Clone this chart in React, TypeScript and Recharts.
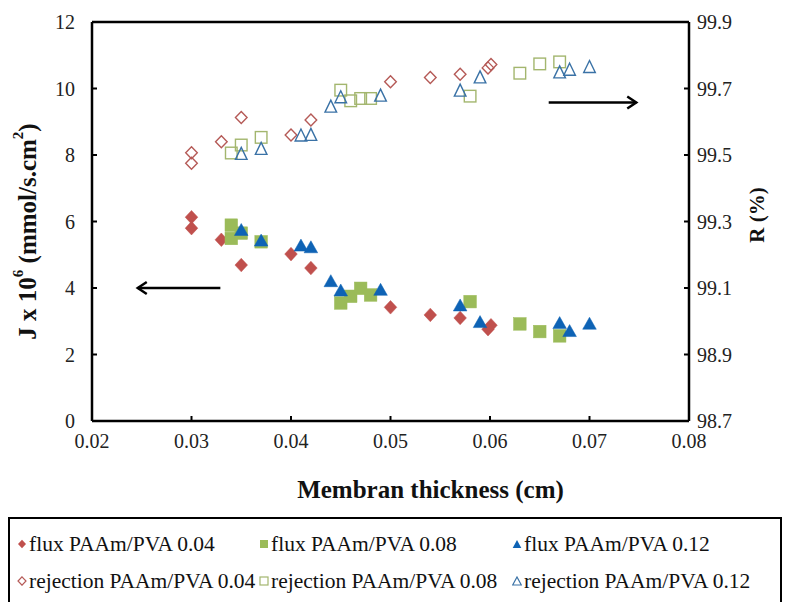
import React from 'react';
import {
    ReferenceLine,
    Scatter,
    ScatterChart,
    XAxis,
    YAxis,
} from 'recharts';

// Values (flux on the left axis, rejection on the right).
const thicknessTicks = [0.02, 0.03, 0.04, 0.05, 0.06, 0.07, 0.08];
const fluxTicks = [0, 2, 4, 6, 8, 10, 12];
const rejectionTicks = [98.7, 98.9, 99.1, 99.3, 99.5, 99.7, 99.9];

const thickness004 = [0.03, 0.03, 0.033, 0.035, 0.04, 0.042, 0.05, 0.054, 0.057, 0.0601, 0.0598];
const flux004 = [6.13, 5.8, 5.45, 4.69, 5.02, 4.6, 3.42, 3.19, 3.1, 2.88, 2.76];
const rejection004 = [99.507, 99.475, 99.54, 99.613, 99.56, 99.605, 99.72, 99.733, 99.743, 99.772, 99.762];

const thicknessFlux008 = [0.034, 0.034, 0.035, 0.037, 0.045, 0.046, 0.047, 0.048, 0.058, 0.063, 0.065, 0.067];
const flux008 = [5.89, 5.49, 5.65, 5.39, 3.55, 3.75, 3.99, 3.79, 3.59, 2.92, 2.69, 2.56];
const thicknessRej008 = [0.034, 0.035, 0.037, 0.045, 0.046, 0.047, 0.048, 0.058, 0.063, 0.065, 0.067];
const rejection008 = [99.506, 99.53, 99.553, 99.695, 99.663, 99.67, 99.67, 99.677, 99.746, 99.774, 99.78];

const thickness012 = [0.035, 0.037, 0.041, 0.042, 0.044, 0.045, 0.049, 0.057, 0.059, 0.067, 0.068, 0.07];
const flux012 = [5.76, 5.44, 5.29, 5.24, 4.22, 3.94, 3.96, 3.49, 2.99, 2.96, 2.72, 2.94];
const rejection012 = [99.505, 99.52, 99.56, 99.562, 99.647, 99.675, 99.68, 99.695, 99.735, 99.75, 99.758, 99.766];

// arrows pointing at the axis each group belongs to (left-axis units)
const fluxArrow = [{ x: 0.0329, y: 4 }, { x: 0.0246, y: 4 }];
const rejectionArrow = [{ x: 0.0659, y: 9.58 }, { x: 0.0747, y: 9.58 }];

const RED = '#C0504D';
const GREEN = '#9BBB59';
const BLUE = '#0E63B5';
const RED_OPEN = '#B55A57';
const GREEN_OPEN = '#A3B66E';
const BLUE_OPEN = '#3A72A6';
const FONT = '"Liberation Serif", "Times New Roman", Times, serif';

const toPoints = (xs: number[], ys: number[]) => xs.map((x, i) => ({ x, y: ys[i] }));

const diamond = (color: string, filled: boolean) => (p: any) => {
    const { cx, cy } = p;
    const w = filled ? 6.3 : 5.8;
    const h = filled ? 6.8 : 6;
    return (
        <path
            d={`M${cx},${cy - h} L${cx + w},${cy} L${cx},${cy + h} L${cx - w},${cy} Z`}
            fill={filled ? color : 'none'}
            stroke={color}
            strokeWidth={filled ? 0.5 : 1.4}
        />
    );
};

const square = (color: string, filled: boolean) => (p: any) => {
    const { cx, cy } = p;
    const s = filled ? 6.3 : 5.8;
    return (
        <rect
            x={cx - s}
            y={cy - s}
            width={s * 2}
            height={s * 2}
            fill={filled ? color : 'none'}
            stroke={color}
            strokeWidth={filled ? 0.5 : 1.4}
        />
    );
};

const triangle = (color: string, filled: boolean) => (p: any) => {
    const { cx, cy } = p;
    const w = filled ? 6.8 : 5.8;
    const h = 6;
    return (
        <path
            d={`M${cx},${cy - h} L${cx + w},${cy + h} L${cx - w},${cy + h} Z`}
            fill={filled ? color : 'none'}
            stroke={color}
            strokeWidth={filled ? 0.5 : 1.4}
        />
    );
};

const Arrow = (p: any) => {
    const { x1, y1, x2, y2 } = p;
    const dir = x2 > x1 ? 1 : -1;
    return (
        <g>
            <line x1={x1} y1={y1} x2={x2} y2={y2} stroke="#000" strokeWidth={2.5} />
            <path
                d={`M${x2 - dir * 9},${y2 - 6} L${x2},${y2} L${x2 - dir * 9},${y2 + 6}`}
                fill="none"
                stroke="#000"
                strokeWidth={2.5}
            />
        </g>
    );
};

const LeftTitle = (p: any) => {
    const vb = p.viewBox || { x: 12, y: 22, width: 80, height: 399 };
    const cx = vb.x + 15;
    const cy = vb.y + vb.height / 2 + 10;
    return (
        <text
            x={cx}
            y={cy}
            transform={`rotate(-90 ${cx} ${cy})`}
            textAnchor="middle"
            dominantBaseline="central"
            fontFamily={FONT}
            style={{ fontFamily: FONT }}
            fontWeight="bold"
            fontSize={25}
            fill="#111"
        >
            J x 10
            <tspan dy={-9} fontSize={15}>6</tspan>
            <tspan dy={9}> (mmol/s.cm</tspan>
            <tspan dy={-9} fontSize={15}>2</tspan>
            <tspan dy={9}>)</tspan>
        </text>
    );
};

const RightTitle = (p: any) => {
    const vb = p.viewBox || { x: 689, y: 22, width: 90, height: 399 };
    const cx = vb.x + 68;
    const cy = vb.y + 193;
    return (
        <text
            x={cx}
            y={cy}
            transform={`rotate(-90 ${cx} ${cy})`}
            textAnchor="middle"
            dominantBaseline="central"
            fontFamily={FONT}
            style={{ fontFamily: FONT }}
            fontWeight="bold"
            fontSize={21}
            fill="#111"
        >
            R (%)
        </text>
    );
};

const BottomTitle = (p: any) => {
    const vb = p.viewBox || { x: 92, y: 421, width: 597, height: 40 };
    return (
        <text
            x={vb.x + vb.width / 2 + 40}
            y={489}
            textAnchor="middle"
            dominantBaseline="central"
            fontFamily={FONT}
            style={{ fontFamily: FONT }}
            fontWeight="bold"
            fontSize={25}
            fill="#111"
        >
            Membran thickness (cm)
        </text>
    );
};

const tickStyle = { fontSize: 20, fontFamily: FONT, fill: '#222', style: { fontFamily: FONT } };

const legendItems = [
    { label: 'flux PAAm/PVA 0.04', kind: 'diamond', color: RED, filled: true },
    { label: 'flux PAAm/PVA 0.08', kind: 'square', color: GREEN, filled: true },
    { label: 'flux PAAm/PVA 0.12', kind: 'triangle', color: BLUE, filled: true },
    { label: 'rejection PAAm/PVA 0.04', kind: 'diamond', color: RED_OPEN, filled: false },
    { label: 'rejection PAAm/PVA 0.08', kind: 'square', color: GREEN_OPEN, filled: false },
    { label: 'rejection PAAm/PVA 0.12', kind: 'triangle', color: BLUE_OPEN, filled: false },
];

function LegendMarker({ kind, color, filled }: { kind: string; color: string; filled: boolean }) {
    const fill = filled ? color : 'none';
    const sw = filled ? 0 : 1.2;
    return (
        <svg width={10} height={10} style={{ marginRight: 2, flex: 'none' }}>
            {kind === 'diamond' && <path d="M5,0.8 L9,5 L5,9.2 L1,5 Z" fill={fill} stroke={color} strokeWidth={sw} />}
            {kind === 'square' && <rect x={1} y={1} width={8} height={8} fill={fill} stroke={color} strokeWidth={sw} />}
            {kind === 'triangle' && <path d="M5,1 L9.3,9 L0.7,9 Z" fill={fill} stroke={color} strokeWidth={sw} />}
        </svg>
    );
}

export default function App() {
    const columns = [17, 259, 512];
    return (
        <div
            style={{
                position: 'absolute',
                left: 0,
                top: 0,
                width: 788,
                height: 602,
                background: '#fff',
                overflow: 'hidden',
                fontFamily: FONT,
            }}
        >
            <ScatterChart width={788} height={602} margin={{ top: 22, right: 9, bottom: 141, left: 12 }}>
                <XAxis
                    type="number"
                    dataKey="x"
                    domain={[0.02, 0.08]}
                    ticks={thicknessTicks}
                    tickFormatter={(v: number) => v.toFixed(2)}
                    height={40}
                    axisLine={{ stroke: '#000', strokeWidth: 2.5 }}
                    tickLine={{ stroke: '#000', strokeWidth: 2 }}
                    tickSize={-5}
                    tickMargin={18}
                    tick={tickStyle}
                    label={<BottomTitle />}
                    allowDataOverflow
                />
                <YAxis
                    yAxisId="left"
                    type="number"
                    dataKey="y"
                    domain={[0, 12]}
                    ticks={fluxTicks}
                    width={80}
                    axisLine={{ stroke: '#000', strokeWidth: 2.5 }}
                    tickLine={{ stroke: '#000', strokeWidth: 2 }}
                    tickSize={-5}
                    tickMargin={22}
                    tick={tickStyle}
                    label={<LeftTitle />}
                    allowDataOverflow
                />
                <YAxis
                    yAxisId="right"
                    orientation="right"
                    type="number"
                    dataKey="y"
                    domain={[98.7, 99.9]}
                    ticks={rejectionTicks}
                    tickFormatter={(v: number) => v.toFixed(1)}
                    width={90}
                    axisLine={{ stroke: '#000', strokeWidth: 2.5 }}
                    tickLine={{ stroke: '#000', strokeWidth: 2 }}
                    tickSize={-5}
                    tickMargin={13}
                    tick={{ ...tickStyle, textAnchor: 'start' }}
                    label={<RightTitle />}
                    allowDataOverflow
                />
                <ReferenceLine yAxisId="left" y={12} stroke="#000" strokeWidth={2.5} />
                <ReferenceLine yAxisId="left" segment={fluxArrow} shape={<Arrow />} />
                <ReferenceLine yAxisId="left" segment={rejectionArrow} shape={<Arrow />} />

                <Scatter yAxisId="left" name="flux PAAm/PVA 0.04" data={toPoints(thickness004, flux004)} shape={diamond(RED, true)} isAnimationActive={false} />
                <Scatter yAxisId="left" name="flux PAAm/PVA 0.08" data={toPoints(thicknessFlux008, flux008)} shape={square(GREEN, true)} isAnimationActive={false} />
                <Scatter yAxisId="left" name="flux PAAm/PVA 0.12" data={toPoints(thickness012, flux012)} shape={triangle(BLUE, true)} isAnimationActive={false} />
                <Scatter yAxisId="right" name="rejection PAAm/PVA 0.04" data={toPoints(thickness004, rejection004)} shape={diamond(RED_OPEN, false)} isAnimationActive={false} />
                <Scatter yAxisId="right" name="rejection PAAm/PVA 0.08" data={toPoints(thicknessRej008, rejection008)} shape={square(GREEN_OPEN, false)} isAnimationActive={false} />
                <Scatter yAxisId="right" name="rejection PAAm/PVA 0.12" data={toPoints(thickness012, rejection012)} shape={triangle(BLUE_OPEN, false)} isAnimationActive={false} />
            </ScatterChart>

            <div
                style={{
                    position: 'absolute',
                    left: 8,
                    top: 517,
                    width: 770,
                    height: 100,
                    border: '2px solid #000',
                    fontFamily: FONT,
                    fontSize: 21.5,
                    color: '#111',
                }}
            >
                {legendItems.map((item, i) => (
                    <div
                        key={item.label}
                        style={{
                            position: 'absolute',
                            left: columns[i % 3] - 8 - 2,
                            top: i < 3 ? 12 : 49,
                            display: 'flex',
                            alignItems: 'center',
                            whiteSpace: 'nowrap',
                            lineHeight: '26px',
                        }}
                    >
                        <LegendMarker kind={item.kind} color={item.color} filled={item.filled} />
                        <span>{item.label}</span>
                    </div>
                ))}
            </div>
        </div>
    );
}
